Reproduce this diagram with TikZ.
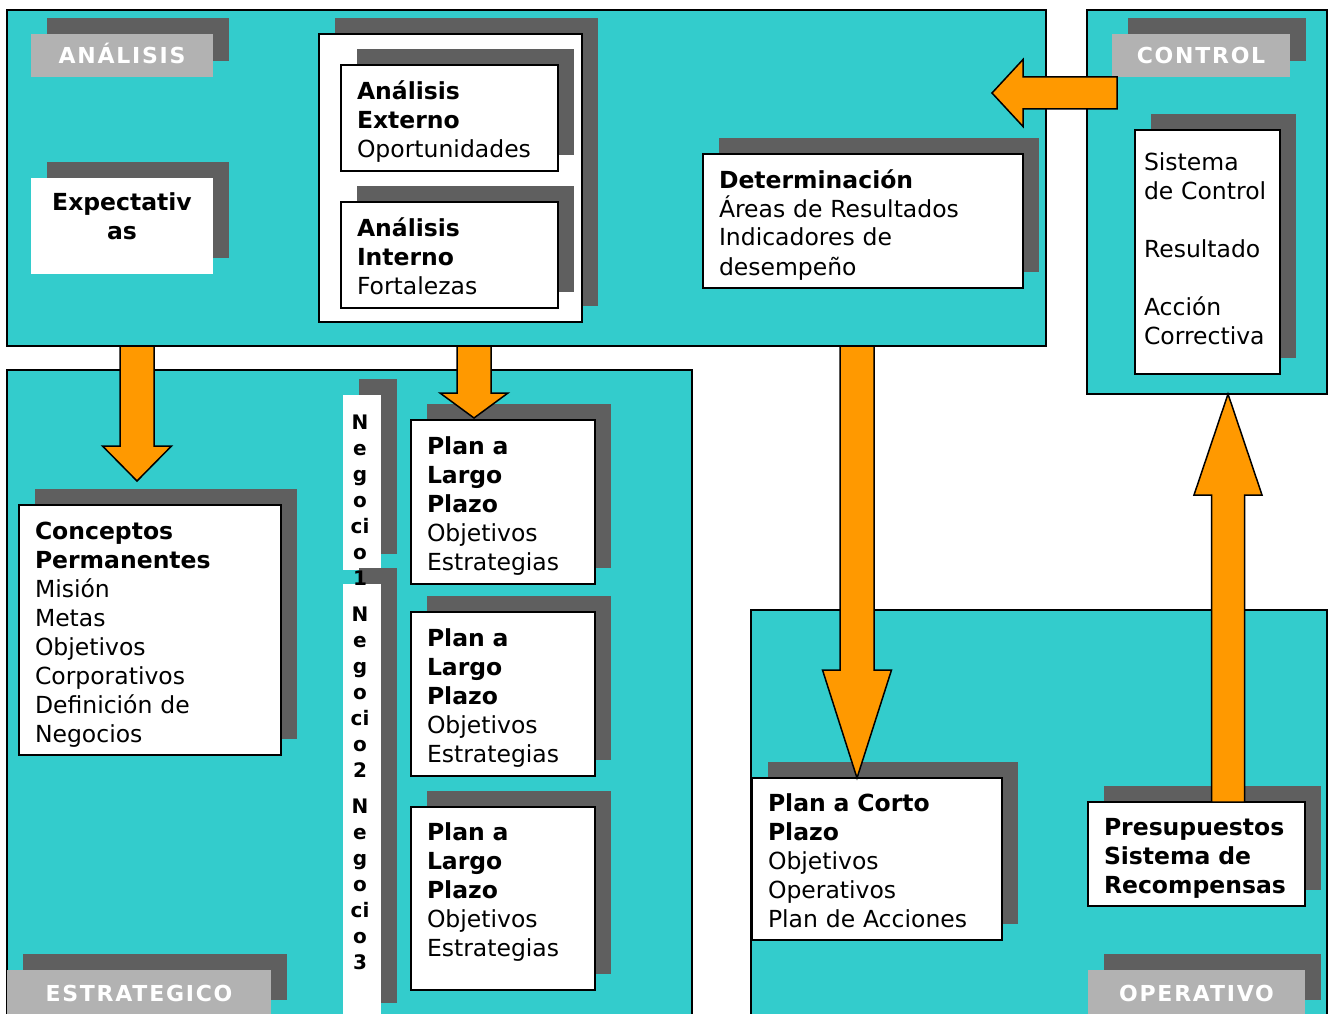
\documentclass[tikz,border=0pt]{standalone}
\usepackage{fontspec}
\setmainfont{DejaVu Sans}
\newfontfamily\tagfamily[LetterSpace=8]{DejaVu Sans}
\usetikzlibrary{calc,shadows}
\definecolor{panelteal}{HTML}{33CCCC}
\definecolor{shade}{HTML}{5F5F5F}
\definecolor{tagback}{HTML}{B2B2B2}
\definecolor{arroworange}{HTML}{FF9900}
\newcommand\bodytext{\fontsize{23.5pt}{29pt}\selectfont}
\newcommand\tagtext{\tagfamily\bfseries\fontsize{22pt}{26pt}\selectfont}
\newcommand\coltext{\bfseries\fontsize{20pt}{26pt}\selectfont}
% fixed height of the first line and depth of the last line of a box text
\newcommand\firststrut{\rule{0pt}{27pt}}
\newcommand\laststrut[1][6pt]{\rule[-#1]{0pt}{#1}}

% wide outlined arrow: from, to, half body width, half head width, head length
\newcommand\blockarrow[5]{%
  \path ($(#2)!#5!(#1)$) coordinate (ba-base);
  \filldraw[blockarrow]
    ($(#1)!#3!90:(#2)$) --
    ($(ba-base)!#3!-90:(#1)$) --
    ($(ba-base)!#4!-90:(#1)$) --
    (#2) --
    ($(ba-base)!#4!90:(#1)$) --
    ($(ba-base)!#3!90:(#1)$) --
    ($(#1)!#3!-90:(#2)$) -- cycle;
}

\tikzset{
  dropshade/.style={general shadow={fill=shade, shadow xshift=16pt, shadow yshift=16pt}},
  panel/.style={draw=black, line width=1.5pt, fill=panelteal, anchor=north west, inner sep=0pt, outer sep=0pt},
  tbox/.style={dropshade, draw=black, line width=1.8pt, fill=white, anchor=north west,
    inner xsep=16pt, inner ysep=0pt, outer sep=0pt, align=left, font=\bodytext},
  plainbox/.style={dropshade, fill=white, anchor=north west, inner sep=0pt, outer sep=0pt},
  tag/.style={dropshade, fill=tagback, anchor=north west, inner sep=0pt, outer sep=0pt,
    text=white, font=\tagtext, text height=16pt, text depth=0pt},
  blockarrow/.style={draw=black, line width=1.5pt, fill=arroworange, line join=miter},
}

\begin{document}
\begin{tikzpicture}[x=1pt, y=-1pt]
\useasboundingbox (0,0) rectangle (1328,1014);
\clip (0,0) rectangle (1328,1014);

% the four areas
\node[panel, minimum width=1039pt, minimum height=336pt] (ana) at (7,10) {};
\node[panel, minimum width=240pt, minimum height=384pt] (ctl) at (1087,10) {};
\node[panel, minimum width=685pt, minimum height=660pt] (est) at (7,370) {};
\node[panel, minimum width=576pt, minimum height=420pt] (ope) at (751,610) {};

% area titles
\node[tag, minimum width=182pt, minimum height=43pt] (tag-ana) at (31,34) {ANÁLISIS};
\node[tag, minimum width=178pt, minimum height=43pt] (tag-ctl) at (1112,34) {CONTROL};
\node[tag, minimum width=264pt, minimum height=46pt] (tag-est) at (7,970) {ESTRATEGICO};
\node[tag, minimum width=217pt, minimum height=46pt] (tag-ope) at (1088,970) {OPERATIVO};

% analysis area
\node[plainbox, minimum width=182pt, minimum height=96pt] (expt) at (31,178) {};
\node[font=\bodytext\bfseries, align=center, inner sep=0pt] (expt-t) at ($(expt.center)+(0,-9.5)$) {Expectativ\\as};

\node[plainbox, draw=black, line width=1.8pt, minimum width=263pt, minimum height=288pt] (grp) at (319,34) {};
\node[tbox, text width=185pt, minimum width=217pt, minimum height=106pt] (ext) at (341,65)
  {\firststrut\textbf{Análisis}\\\textbf{Externo}\\Oportunidades\laststrut};
\node[tbox, text width=185pt, minimum width=217pt, minimum height=106pt] (int) at (341,202)
  {\firststrut\textbf{Análisis}\\\textbf{Interno}\\Fortalezas\laststrut};

\node[tbox, text width=288pt, minimum width=320pt, minimum height=134pt] (det) at (703,154)
  {\firststrut\textbf{Determinación}\\Áreas de Resultados\\Indicadores de\\desempeño\laststrut};

% control area
\node[tbox, inner xsep=9pt, text width=127pt, minimum width=145pt, minimum height=244pt] (sis) at (1135,130)
  {Sistema\\de Control\\\mbox{}\\Resultado\\\mbox{}\\Acción\\Correctiva\laststrut};

% strategic area
\node[tbox, text width=230pt, minimum width=262pt, minimum height=250pt] (con) at (19,505)
  {\firststrut\textbf{Conceptos}\\\textbf{Permanentes}\\Misión\\Metas\\Objetivos\\Corporativos\\Definición de\\Negocios\laststrut};

\node[plainbox, minimum width=38pt, minimum height=175pt] (negA) at (343,395) {};
\node[plainbox, minimum width=38pt, minimum height=435pt] (negB) at (343,584) {};
\node[font=\coltext, align=center, inner sep=0pt] (neg1) at (360,500) {N\\e\\g\\o\\ci\\o\\1};
\node[font=\coltext, align=center, inner sep=0pt] (neg2) at (360,692) {N\\e\\g\\o\\ci\\o\\2};
\node[font=\coltext, align=center, inner sep=0pt] (neg3) at (360,884) {N\\e\\g\\o\\ci\\o\\3};

\node[tbox, text width=152pt, minimum width=184pt, minimum height=164pt] (plan1) at (411,420)
  {\firststrut\textbf{Plan a}\\\textbf{Largo}\\\textbf{Plazo}\\Objetivos\\Estrategias\laststrut};
\node[tbox, text width=152pt, minimum width=184pt, minimum height=164pt] (plan2) at (411,612)
  {\firststrut\textbf{Plan a}\\\textbf{Largo}\\\textbf{Plazo}\\Objetivos\\Estrategias\laststrut};
\node[tbox, text width=152pt, minimum width=184pt, minimum height=183pt] (plan3) at (411,807)
  {\firststrut\textbf{Plan a}\\\textbf{Largo}\\\textbf{Plazo}\\Objetivos\\Estrategias\laststrut[27pt]};

% operative area
\node[tbox, text width=218pt, minimum width=250pt, minimum height=162pt] (cor) at (752,778)
  {\firststrut\textbf{Plan a Corto}\\\textbf{Plazo}\\Objetivos\\Operativos\\Plan de Acciones\laststrut};
\node[tbox, text width=185pt, minimum width=217pt, minimum height=104pt] (pre) at (1088,802)
  {\firststrut\textbf{Presupuestos}\\\textbf{Sistema de}\\\textbf{Recompensas}\laststrut};

% flow arrows
\coordinate (ana-o1) at ($(ana.south west)+(130,0)$);
\coordinate (con-i) at ($(con.north west)+(118,-24)$);
\blockarrow{ana-o1}{con-i}{17pt}{34.5pt}{35pt}

\coordinate (ana-o2) at ($(ana.south west)+(467,0)$);
\coordinate (plan1-i) at ($(plan1.north west)+(63,-2)$);
\blockarrow{ana-o2}{plan1-i}{17pt}{34pt}{25pt}

\coordinate (ana-o3) at ($(ana.south west)+(850,0)$);
\coordinate (cor-i) at ($(cor.north west)+(105,0)$);
\blockarrow{ana-o3}{cor-i}{17pt}{34.5pt}{108pt}

\coordinate (pre-o) at ($(pre.north west)+(140,0)$);
\coordinate (ctl-i) at ($(ctl.south west)+(141,0)$);
\blockarrow{pre-o}{ctl-i}{16.5pt}{34pt}{101pt}

\coordinate (ctl-o) at ($(ctl.north west)+(30,83)$);
\coordinate (ana-i) at ($(ana.north east)+(-54,83)$);
\blockarrow{ctl-o}{ana-i}{16pt}{33.5pt}{31pt}
\end{tikzpicture}
\end{document}
